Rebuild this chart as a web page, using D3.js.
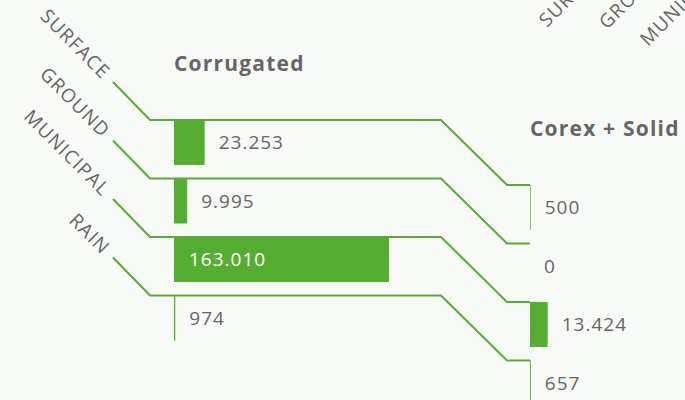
<!DOCTYPE html>
<html>
<head>
<meta charset="utf-8">
<script src="https://cdn.jsdelivr.net/npm/d3@7"></script>
<style>
  html, body { margin: 0; padding: 0; background: #f8faf8; }
  svg { display: block; font-family: "Open Sans", "DejaVu Sans", sans-serif; }
</style>
</head>
<body>
<svg width="685" height="400"></svg>
<script>
const categories = ["SURFACE", "GROUND", "MUNICIPAL", "RAIN"];
const panelNames = ["Corrugated", "Corex + Solid"];
const corrugated = [23253, 9995, 163010, 974];
const corexSolid = [500, 0, 13424, 657];
const nextLabels = ["SURFACE", "GROUND", "MUNICIPAL"];

const green = "#55ae31", grey = "#666";
const svg = d3.select("svg");

const fmt = d3.formatLocale({ decimal: ",", thousands: ".", grouping: [3], currency: ["", ""] }).format(",d");

const x = d3.scaleLinear().domain([0, 163010]).range([0, 215]);
const y = d3.scaleBand().domain(categories).range([0, 220.5]).paddingInner(13.5 / 58.5).paddingOuter(0);

const panels = [
    { name: panelNames[0], values: corrugated, ox: 174, oy: 120 },
    { name: panelNames[1], values: corexSolid, ox: 530, oy: 185 }
];

// connectors: label stub into panel 1, then panel 1 -> panel 2
const p1 = panels[0], p2 = panels[1];
const line = d3.line();
svg.selectAll(".link")
    .data(categories)
    .enter().append("path")
    .attr("class", "link")
    .attr("fill", "none")
    .attr("stroke", green)
    .attr("stroke-width", 2)
    .attr("d", c => {
        const y1 = p1.oy + y(c), y2 = p2.oy + y(c);
        return line([
            [p1.ox - 61, y1 - 38], [p1.ox - 24, y1],
            [p1.ox + 267, y1], [p2.ox - 23, y2], [p2.ox, y2]
        ]);
    });

// category labels on the left
svg.selectAll(".cat")
    .data(categories)
    .enter().append("text")
    .attr("class", "cat")
    .attr("transform", c => `translate(${p1.ox - 72},${p1.oy + y(c) - 40}) rotate(45)`)
    .attr("text-anchor", "end")
    .attr("font-size", 19)
    .attr("letter-spacing", 1.2)
    .attr("fill", grey)
    .text(c => c);

panels.forEach(p => {
    const g = svg.append("g").attr("transform", `translate(${p.ox},${p.oy})`);

    g.append("text")
        .attr("x", 0)
        .attr("y", -49)
        .attr("font-size", 21)
        .attr("font-weight", "bold")
        .attr("letter-spacing", 1.2)
        .attr("fill", grey)
        .text(p.name);

    const rows = categories.map((c, i) => ({ c, v: p.values[i] }));

    g.selectAll(".bar")
        .data(rows)
        .enter().append("rect")
        .attr("class", "bar")
        .attr("x", 0)
        .attr("y", d => y(d.c))
        .attr("width", d => x(d.v))
        .attr("height", y.bandwidth())
        .attr("fill", green);

    g.selectAll(".val")
        .data(rows)
        .enter().append("text")
        .attr("class", "val")
        .attr("x", d => x(d.v) > 100 ? 15 : x(d.v) + 14)
        .attr("y", d => y(d.c) + 29)
        .attr("font-size", 19)
        .attr("letter-spacing", 1)
        .attr("fill", d => x(d.v) > 100 ? "#fff" : grey)
        .text(d => fmt(d.v));
});

// labels of the next panel, cut off at the top right
const nextPos = [[547, 28], [607, 30], [648, 47]];
svg.selectAll(".next")
    .data(nextLabels)
    .enter().append("text")
    .attr("class", "next")
    .attr("transform", (c, i) => `translate(${nextPos[i][0]},${nextPos[i][1]}) rotate(-45)`)
    .attr("font-size", 19)
    .attr("letter-spacing", 1.2)
    .attr("fill", grey)
    .text(c => c);
</script>
</body>
</html>
